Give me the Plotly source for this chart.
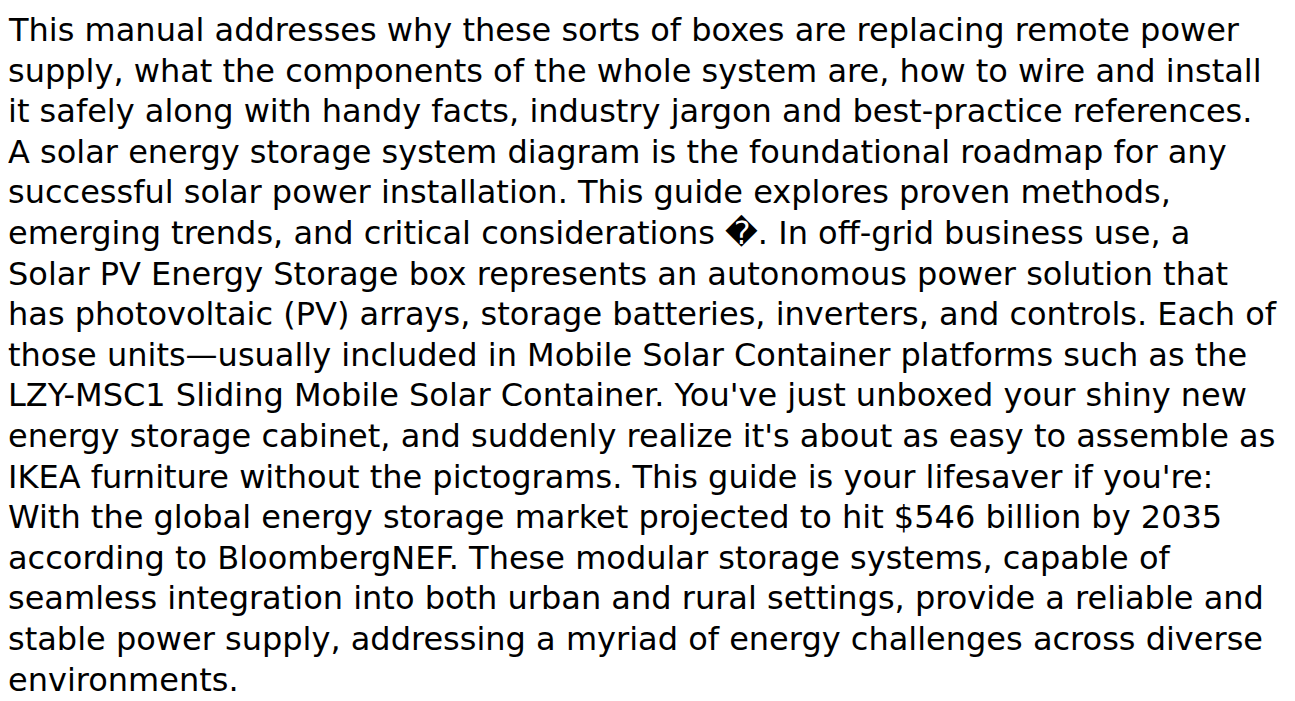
import plotly.graph_objects as go

W, H = 1295, 701

lines = [
    "This manual addresses why these sorts of boxes are replacing remote power",
    "supply, what the components of the whole system are, how to wire and install",
    "it safely along with handy facts, industry jargon and best-practice references.",
    "A solar energy storage system diagram is the foundational roadmap for any",
    "successful solar power installation. This guide explores proven methods,",
    "emerging trends, and critical considerations \ufffd. In off-grid business use, a",
    "Solar PV Energy Storage box represents an autonomous power solution that",
    "has photovoltaic (PV) arrays, storage batteries, inverters, and controls. Each of",
    "those units\u2014usually included in Mobile Solar Container platforms such as the",
    "LZY-MSC1 Sliding Mobile Solar Container. You've just unboxed your shiny new",
    "energy storage cabinet, and suddenly realize it's about as easy to assemble as",
    "IKEA furniture without the pictograms. This guide is your lifesaver if you're:",
    "With the global energy storage market projected to hit $546 billion by 2035",
    "according to BloombergNEF. These modular storage systems, capable of",
    "seamless integration into both urban and rural settings, provide a reliable and",
    "stable power supply, addressing a myriad of energy challenges across diverse",
    "environments.",
]

FONT_SIZE = 32
LINE_H = 40.6
LEFT = 0
FIRST_BASELINE = 33

fig = go.Figure()
annotations = []
for i, t in enumerate(lines):
    baseline = FIRST_BASELINE + i * LINE_H
    yc = baseline - 0.346 * FONT_SIZE
    annotations.append(dict(
        text=t.replace("$", "&#36;"),
        xref="paper", yref="paper",
        x=LEFT / W, y=1 - yc / H,
        xanchor="left", yanchor="middle",
        showarrow=False, align="left",
        borderpad=0, borderwidth=0,
        font=dict(family="DejaVu Sans", size=FONT_SIZE, color="#000000"),
    ))

fig.update_layout(
    width=W, height=H,
    margin=dict(l=0, r=0, t=0, b=0),
    paper_bgcolor="white", plot_bgcolor="white",
    xaxis=dict(visible=False, range=[0, 1]),
    yaxis=dict(visible=False, range=[0, 1]),
    annotations=annotations,
    showlegend=False,
)

fig.write_html("out.html")
